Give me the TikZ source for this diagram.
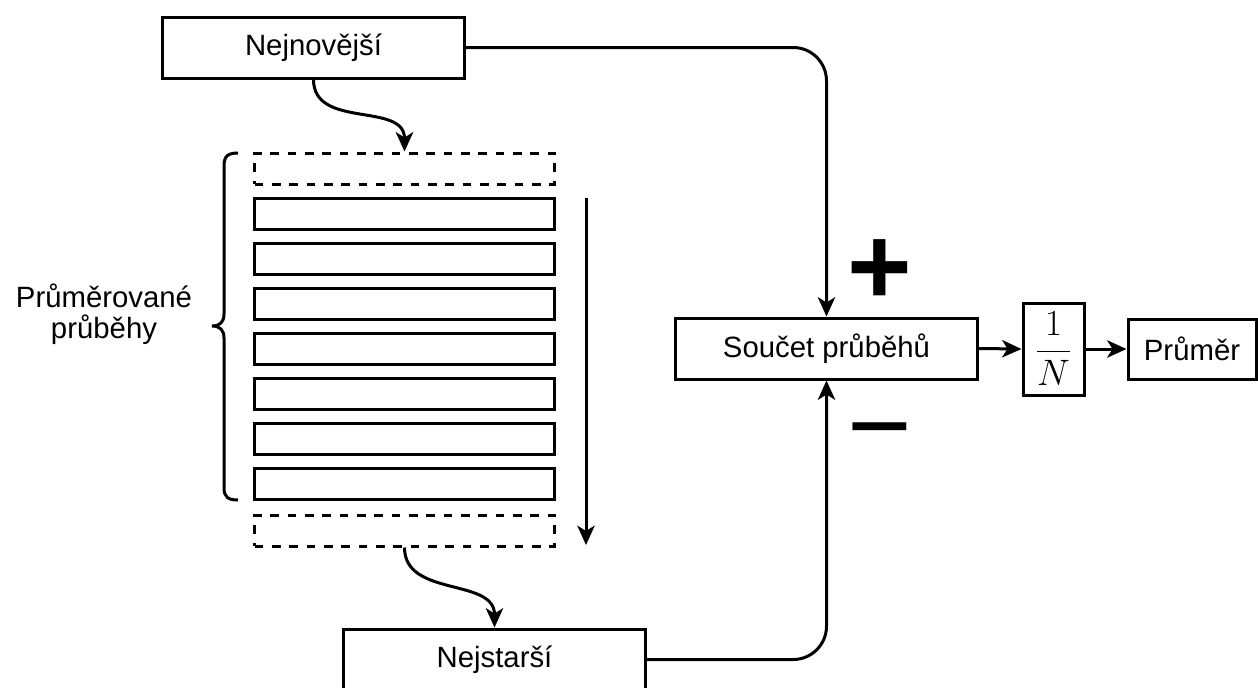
\documentclass[tikz,border=0pt]{standalone}
\usepackage{graphicx}
\usepackage{fontspec}
\setmainfont{Liberation Sans}
\usetikzlibrary{arrows.meta}

\begin{document}
\begin{tikzpicture}[x=0.75pt,y=-0.75pt,
  line width=2.25pt,
  every node/.style={font=\fontsize{22}{26}\selectfont},
  box/.style={draw, line width=2.25pt, inner sep=0pt,
    minimum width=226.5pt, minimum height=45.75pt},
  slot/.style={draw, line width=2.25pt, inner sep=0pt,
    minimum width=225pt, minimum height=23.25pt},
  slotdash/.style={slot, dash pattern=on 6.5pt off 6.5pt},
  arr/.style={-{Stealth[length=14.5pt,width=13pt,inset=4pt]}},
  sign/.style={inner sep=0pt, anchor=base, font=\fontsize{83}{83}\selectfont}
]
\useasboundingbox (0,0) rectangle (1258,687);
\clip (0,0) rectangle (1258,687);

% newest and oldest records
\node[box] (new) at (313.5,47.5) {Nejnovější};
\node[box] (old) at (494.5,659.5) {Nejstarší};

% buffer of averaged records
\node[slotdash] (topslot) at (404.5,168.5) {};
\foreach \i in {0,...,6}
  \node[slot] (bar\i) at (404.5,213.5+45*\i) {};
\node[slotdash] (botslot) at (404.5,530.5) {};

% shift direction
\coordinate (flowA) at (586,198);
\coordinate (flowB) at (586,545);
\draw[arr] (flowA) -- (flowB);

% brace and its label
\draw (238,153) .. controls (228,153) and (224,156) .. (224,166)
  -- (224,314) .. controls (224,322) and (220,326) .. (212,326)
  .. controls (220,326) and (224,330) .. (224,338)
  -- (224,488) .. controls (224,497) and (228,500) .. (238,500);
\node[align=center, font=\fontsize{22}{23.3}\selectfont] (lbl) at (104,314)
  {Průměrované\\průběhy};

% in and out of the buffer
\draw[arr] (new.south) .. controls +(0,50) and +(0,-50) .. (topslot.north);
\draw[arr] (botslot.south) .. controls +(0,50) and +(0,-50) .. (old.north);

% running sum and output
\node[box] (sum) at (826.5,348.5) {Součet průběhů};
\node[draw, inner sep=0pt, minimum width=45.75pt, minimum height=69pt]
  (frac) at (1053.5,349) {\scalebox{1.33}{$\displaystyle\frac{1}{N}$}};
\node[draw, inner sep=0pt, minimum width=96pt, minimum height=45pt]
  (avg) at (1192,349) {Průměr};

\draw[arr, rounded corners=25pt] (new.east) -| (sum.north);
\draw[arr, rounded corners=25pt] (old.east) -| (sum.south);
\draw[arr] (sum.east) -- (frac.west);
\draw[arr] (frac.east) -- (avg.west);

\node[sign, font=\fontsize{83}{83}\bfseries\selectfont] (plus) at (880,304) {+};
\node[sign] (minus) at (880,463) {−};
\end{tikzpicture}
\end{document}
